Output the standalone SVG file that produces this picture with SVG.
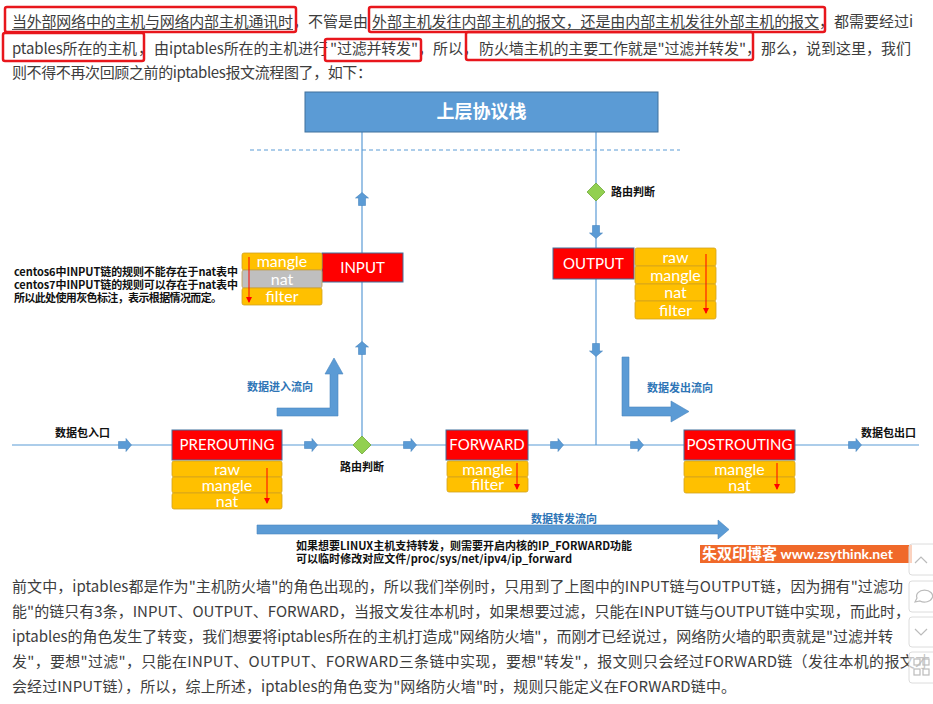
<svg xmlns="http://www.w3.org/2000/svg" width="933" height="704" viewBox="0 0 933 704">
  <style>
    .body{font-family:"Noto Sans CJK SC","Noto Sans",sans-serif;font-size:15px;fill:#3d3d3d}
    .hl{fill:none;stroke:#e8161c;stroke-width:2.5}
    .ul{stroke:#555;stroke-width:1}
    .chain{fill:#ff0000;stroke:#41719c;stroke-width:1}
    .chain-t{font-family:Lato,"Liberation Sans",sans-serif;font-size:15px;fill:#fff;text-anchor:middle}
    .tbl{fill:#ffc000;stroke:#d0a21e;stroke-width:0.8}
    .tbl.grey{fill:#bfbfbf;stroke:#c0a050}
    .tbl-t{font-family:Lato,"Liberation Sans",sans-serif;font-size:16px;fill:#fff;text-anchor:middle}
    .seq{stroke:#ff0000;stroke-width:1;fill:none}
    .wire{stroke:#5b9bd5;stroke-width:1.2;fill:none}
    .dash{stroke:#5b9bd5;stroke-width:1;stroke-dasharray:4 3;fill:none}
    .blk{fill:#5b9bd5;stroke:#4a86c0;stroke-width:0.6}
    .dia{fill:#92d050;stroke:#6fa83a;stroke-width:0.8}
    .note{font-family:"Noto Sans CJK SC",sans-serif;font-size:11px;font-weight:bold;fill:#111}
    .flow{font-family:"Noto Sans CJK SC",sans-serif;font-size:11px;font-weight:bold;fill:#2e75b6}
    .side{fill:#fff;fill-opacity:0.7;stroke:#dcdcdc;stroke-width:1}
    .icon{fill:none;stroke:#bbb;stroke-width:1.2}
  </style>
  <defs>
    <path id="blk" d="M-6.5,-3.5 H1 V-6.5 L6.5,0 L1,6.5 V3.5 H-6.5 Z"/>
    <marker id="redhead" viewBox="0 0 6 6" refX="5" refY="3" markerWidth="6" markerHeight="6" markerUnits="userSpaceOnUse" orient="auto">
      <path d="M0,0 L6,3 L0,6 Z" fill="#ff0000"/>
    </marker>
  </defs>

  <!-- intro paragraph -->
  <g id="intro">
    <text class="body" x="12" y="27" textLength="281">当外部网络中的主机与网络内部主机通讯时</text>
    <text class="body" x="293" y="27">，不管是由</text>
    <text class="body" x="372" y="27" textLength="447">外部主机发往内部主机的报文，还是由内部主机发往外部主机的报文</text>
    <text class="body" x="819" y="27">，都需要经过i</text>
    <text class="body" x="12" y="54" textLength="125">ptables所在的主机</text>
    <text class="body" x="138" y="54">，</text>
    <text class="body" x="154" y="54" textLength="174">由iptables所在的主机进行</text>
    <text class="body" x="330" y="54" textLength="88">"过滤并转发"</text>
    <text class="body" x="418" y="54">，</text>
    <text class="body" x="433" y="54">所以，</text>
    <text class="body" x="479" y="54" textLength="267">防火墙主机的主要工作就是"过滤并转发"</text>
    <text class="body" x="746" y="54" textLength="165">，那么，说到这里，我们</text>
    <text class="body" x="12" y="78" textLength="360">则不得不再次回顾之前的iptables报文流程图了，如下：</text>
    <line class="ul" x1="12" y1="29.5" x2="293" y2="29.5"/>
    <line class="ul" x1="372" y1="29.5" x2="819" y2="29.5"/>
    <rect class="hl" x="5" y="7" width="291" height="25" rx="2"/>
    <rect class="hl" x="369" y="7" width="456" height="25" rx="2"/>
    <rect class="hl" x="3" y="33" width="141" height="28" rx="2"/>
    <rect class="hl" x="325" y="39" width="96" height="22" rx="2"/>
    <rect class="hl" x="466" y="32" width="287" height="28" rx="2"/>
  </g>

  <!-- connectors -->
  <g id="connectors">
    <line class="dash" x1="250" y1="150" x2="680" y2="150"/>
    <line class="wire" x1="362" y1="132" x2="362" y2="445"/>
    <line class="wire" x1="596" y1="132" x2="596" y2="445"/>
    <line class="wire" x1="12" y1="445" x2="919" y2="445"/>
    <use href="#blk" class="blk" transform="translate(125,445)"/>
    <use href="#blk" class="blk" transform="translate(311,445)"/>
    <use href="#blk" class="blk" transform="translate(410,445)"/>
    <use href="#blk" class="blk" transform="translate(557,445)"/>
    <use href="#blk" class="blk" transform="translate(637,445)"/>
    <use href="#blk" class="blk" transform="translate(855,445)"/>
    <use href="#blk" class="blk" transform="translate(362,199) rotate(-90)"/>
    <use href="#blk" class="blk" transform="translate(362,348) rotate(-90)"/>
    <use href="#blk" class="blk" transform="translate(596,232) rotate(90)"/>
    <use href="#blk" class="blk" transform="translate(596,350) rotate(90)"/>
    <!-- large flow arrows -->
    <path class="blk" d="M277,408 H330 V374 H325 L334,358 L343,374 H338 V416 H277 Z"/>
    <path class="blk" d="M622,357 H629 V407 H671 V401 L689,411.5 L671,422 V416 H622 Z"/>
    <path class="blk" d="M257,525 H718 V520 L729,529.5 L718,539 V534 H257 Z"/>
  </g>

  <!-- upper protocol stack -->
  <g id="stack">
    <rect x="305" y="92" width="353" height="40" fill="#5b9bd5" stroke="#41719c" stroke-width="1"/>
    <text x="481.5" y="118" text-anchor="middle" font-family="Noto Sans CJK SC, sans-serif" font-size="18" font-weight="bold" fill="#fff">上层协议栈</text>
  </g>

  <!-- routing decisions -->
  <g id="route-out">
    <polygon class="dia" points="596,183 605,192 596,201 587,192"/>
    <text class="note" x="611" y="196">路由判断</text>
  </g>
  <g id="route-in">
    <polygon class="dia" points="362,436 371,445 362,454 353,445"/>
    <text class="note" x="362" y="471" text-anchor="middle">路由判断</text>
  </g>

  <!-- INPUT chain -->
  <g id="input">
    <rect class="chain" x="322" y="253" width="81" height="29"/>
    <text class="chain-t" x="362.5" y="273">INPUT</text>
    <rect class="tbl" x="242" y="253" width="80" height="17" rx="2"/>
    <rect class="tbl grey" x="242" y="270" width="80" height="18" rx="2"/>
    <rect class="tbl" x="242" y="288" width="80" height="17" rx="2"/>
    <text class="tbl-t" x="282" y="267">mangle</text>
    <text class="tbl-t" x="282" y="284.5">nat</text>
    <text class="tbl-t" x="282" y="302">filter</text>
    <line class="seq" x1="249" y1="257" x2="249" y2="302" marker-end="url(#redhead)"/>
  </g>
  <g id="input-note">
    <text class="note" x="14" y="276" textLength="224">centos6中INPUT链的规则不能存在于nat表中</text>
    <text class="note" x="14" y="289" textLength="224">centos7中INPUT链的规则可以存在于nat表中</text>
    <text class="note" x="14" y="302" textLength="208" font-weight="normal">所以此处使用灰色标注，表示根据情况而定。</text>
  </g>

  <!-- OUTPUT chain -->
  <g id="output">
    <rect class="chain" x="553" y="248" width="81" height="31"/>
    <text class="chain-t" x="593.5" y="269">OUTPUT</text>
    <rect class="tbl" x="635" y="248" width="81" height="18" rx="2"/>
    <rect class="tbl" x="635" y="266" width="81" height="18" rx="2"/>
    <rect class="tbl" x="635" y="284" width="81" height="17" rx="2"/>
    <rect class="tbl" x="635" y="301" width="81" height="18" rx="2"/>
    <text class="tbl-t" x="675.5" y="262.5">raw</text>
    <text class="tbl-t" x="675.5" y="280.5">mangle</text>
    <text class="tbl-t" x="675.5" y="298">nat</text>
    <text class="tbl-t" x="675.5" y="315.5">filter</text>
    <line class="seq" x1="706" y1="254" x2="706" y2="313" marker-end="url(#redhead)"/>
  </g>

  <!-- PREROUTING chain -->
  <g id="prerouting">
    <rect class="chain" x="172" y="430" width="110" height="30"/>
    <text class="chain-t" x="227" y="450">PREROUTING</text>
    <rect class="tbl" x="172" y="461" width="110" height="16" rx="2"/>
    <rect class="tbl" x="172" y="477" width="110" height="16" rx="2"/>
    <rect class="tbl" x="172" y="493" width="110" height="16" rx="2"/>
    <text class="tbl-t" x="227" y="474.5">raw</text>
    <text class="tbl-t" x="227" y="490.5">mangle</text>
    <text class="tbl-t" x="227" y="506.5">nat</text>
    <line class="seq" x1="267" y1="468" x2="267" y2="503" marker-end="url(#redhead)"/>
  </g>

  <!-- FORWARD chain -->
  <g id="forward">
    <rect class="chain" x="446" y="430" width="82" height="30"/>
    <text class="chain-t" x="487" y="450">FORWARD</text>
    <rect class="tbl" x="447" y="461" width="81" height="16" rx="2"/>
    <rect class="tbl" x="447" y="477" width="81" height="15" rx="2"/>
    <text class="tbl-t" x="487.5" y="474.5">mangle</text>
    <text class="tbl-t" x="487.5" y="490">filter</text>
    <line class="seq" x1="517" y1="463" x2="517" y2="489" marker-end="url(#redhead)"/>
  </g>

  <!-- POSTROUTING chain -->
  <g id="postrouting">
    <rect class="chain" x="684" y="430" width="111" height="30"/>
    <text class="chain-t" x="739.5" y="450">POSTROUTING</text>
    <rect class="tbl" x="684" y="461" width="111" height="16" rx="2"/>
    <rect class="tbl" x="684" y="477" width="111" height="16" rx="2"/>
    <text class="tbl-t" x="739.5" y="474.5">mangle</text>
    <text class="tbl-t" x="739.5" y="490.5">nat</text>
    <line class="seq" x1="777" y1="463" x2="777" y2="489" marker-end="url(#redhead)"/>
  </g>

  <!-- flow labels -->
  <g id="labels">
    <text class="note" x="55" y="437">数据包入口</text>
    <text class="note" x="861" y="437">数据包出口</text>
    <text class="flow" x="247" y="391">数据进入流向</text>
    <text class="flow" x="647" y="392">数据发出流向</text>
    <text class="flow" x="531" y="523">数据转发流向</text>
    <text class="note" x="296" y="550" textLength="336">如果想要LINUX主机支持转发，则需要开启内核的IP_FORWARD功能</text>
    <text class="note" x="296" y="563" textLength="276">可以临时修改对应文件/proc/sys/net/ipv4/ip_forward</text>
  </g>

  <!-- site watermark -->
  <g id="watermark">
    <rect x="700" y="545" width="212" height="18" fill="#f0692a"/>
    <text x="702" y="559" font-family="Noto Sans CJK SC, sans-serif" font-weight="bold" fill="#fff" font-size="15">朱双印博客 <tspan font-family="Lato, Liberation Sans, sans-serif" font-size="14">www.zsythink.net</tspan></text>
  </g>

  <!-- closing paragraph -->
  <g id="outro">
    <text class="body" x="12" y="592" textLength="891">前文中，iptables都是作为"主机防火墙"的角色出现的，所以我们举例时，只用到了上图中的INPUT链与OUTPUT链，因为拥有"过滤功</text>
    <text class="body" x="12" y="617" textLength="898">能"的链只有3条，INPUT、OUTPUT、FORWARD，当报文发往本机时，如果想要过滤，只能在INPUT链与OUTPUT链中实现，而此时，</text>
    <text class="body" x="12" y="642" textLength="881">iptables的角色发生了转变，我们想要将iptables所在的主机打造成"网络防火墙"，而刚才已经说过，网络防火墙的职责就是"过滤并转</text>
    <text class="body" x="12" y="667" textLength="918">发"，要想"过滤"，只能在INPUT、OUTPUT、FORWARD三条链中实现，要想"转发"，报文则只会经过FORWARD链（发往本机的报文才</text>
    <text class="body" x="12" y="692" textLength="724">会经过INPUT链），所以，综上所述，iptables的角色变为"网络防火墙"时，规则只能定义在FORWARD链中。</text>
  </g>

  <!-- page side toolbar -->
  <g id="toolbar">
    <rect class="side" x="909" y="544" width="30" height="31" rx="3"/>
    <polyline class="icon" points="915,563 921,557 927,563"/>
    <rect class="side" x="909" y="581" width="30" height="31" rx="3"/>
    <path class="icon" d="M915,602 L917,598 A8,6 0 1 1 920,601 Z"/>
    <rect class="side" x="909" y="617" width="30" height="30" rx="3"/>
    <polyline class="icon" points="915,629 921,635 927,629"/>
    <rect class="side" x="909" y="652" width="30" height="31" rx="3"/>
    <rect x="914" y="659" width="6" height="6" class="icon"/>
    <rect x="923" y="659" width="6" height="6" class="icon"/>
    <rect x="914" y="669" width="6" height="6" class="icon"/>
    <rect x="923" y="669" width="6" height="6" class="icon"/>
  </g>
</svg>
